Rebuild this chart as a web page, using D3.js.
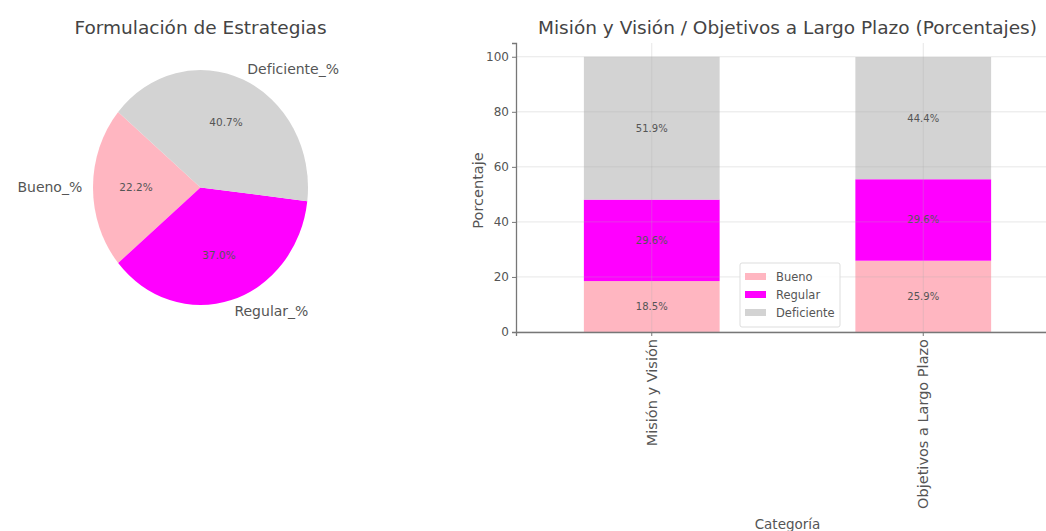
<!DOCTYPE html>
<html lang="es">
<head>
<meta charset="utf-8">
<title>Estrategias</title>
<script src="https://cdn.jsdelivr.net/npm/d3@7"></script>
<style>
  body { margin: 0; background: #fff; }
  svg { font-family: "DejaVu Sans", sans-serif; }
</style>
</head>
<body>
<svg id="chart" width="1046" height="531"></svg>
<script>
// pie data
const pieLabels = ['Bueno_%', 'Regular_%', 'Deficiente_%'];
const pieValues = [22.2, 37.0, 40.7];

// stacked bars data
const categories = ['Misión y Visión', 'Objetivos a Largo Plazo'];
const seriesNames = ['Bueno', 'Regular', 'Deficiente'];
const bueno = [18.5, 25.9];
const regular = [29.6, 29.6];
const deficiente = [51.9, 44.4];
const yTicks = [0, 20, 40, 60, 80, 100];

const colors = ['#ffb6c1', '#ff00ff', '#d3d3d3'];
const svg = d3.select('#chart');

// ---- pie ----
const cx = 200.5, cy = 187.5, rx = 107.5, ry = 117.5;
svg.append('text')
  .attr('x', cx).attr('y', 34)
  .attr('text-anchor', 'middle')
  .style('font-size', '18.5px').style('fill', '#444')
  .text('Formulación de Estrategias');

// matplotlib style: start at 140 deg, counterclockwise
const start = (90 - 140) * Math.PI / 180;
const pie = d3.pie().sort(null).startAngle(start).endAngle(start - 2 * Math.PI);
const slices = pie(pieValues);
const arc = d3.arc().innerRadius(0).outerRadius(rx);

const pg = svg.append('g').attr('transform', 'translate(' + cx + ',' + cy + ') scale(1,' + (ry / rx) + ')');
pg.selectAll('path').data(slices).enter().append('path')
  .attr('d', arc)
  .attr('fill', (d, i) => colors[i]);

function polar(d, f) {
  const a = (d.startAngle + d.endAngle) / 2; // d3 angle, 0 at top, clockwise
  return [cx + f * rx * Math.sin(a), cy - f * ry * Math.cos(a)];
}
svg.selectAll('.plabel').data(slices).enter().append('text')
  .attr('class', 'plabel')
  .attr('x', d => polar(d, 1.1)[0])
  .attr('y', d => polar(d, 1.1)[1])
  .attr('dy', '0.35em')
  .attr('text-anchor', d => Math.sin((d.startAngle + d.endAngle) / 2) > 0 ? 'start' : 'end')
  .style('font-size', '14px').style('fill', '#555')
  .text((d, i) => pieLabels[i]);
svg.selectAll('.ppct').data(slices).enter().append('text')
  .attr('class', 'ppct')
  .attr('x', d => polar(d, 0.6)[0])
  .attr('y', d => polar(d, 0.6)[1])
  .attr('dy', '0.35em')
  .attr('text-anchor', 'middle')
  .style('font-size', '10.5px').style('fill', '#555')
  .text(d => d.data.toFixed(1) + '%');

// ---- stacked bars ----
const L = 516, R = 1059, T = 43, B = 332;
const x = d3.scaleBand().domain(categories).range([L, R]).paddingInner(0.5).paddingOuter(0.25);
const y = d3.scaleLinear().domain([0, 105]).range([B, T]);

const rows = categories.map((c, i) => ({ cat: c, Bueno: bueno[i], Regular: regular[i], Deficiente: deficiente[i] }));
const stacked = d3.stack().keys(seriesNames)(rows);

const bars = svg.append('g');
stacked.forEach((s, k) => {
  bars.selectAll('.s' + k).data(s).enter().append('rect')
    .attr('x', d => x(d.data.cat))
    .attr('y', d => y(d[1]))
    .attr('width', x.bandwidth())
    .attr('height', d => y(d[0]) - y(d[1]))
    .attr('fill', colors[k]);
  bars.selectAll('.t' + k).data(s).enter().append('text')
    .attr('x', d => x(d.data.cat) + x.bandwidth() / 2)
    .attr('y', d => y((d[0] + d[1]) / 2))
    .attr('dy', '0.35em')
    .attr('text-anchor', 'middle')
    .style('font-size', '10px').style('fill', '#555')
    .text(d => (d[1] - d[0]).toFixed(1) + '%');
});

// grid on top, faint
const grid = svg.append('g').style('stroke', '#b0b0b0').style('stroke-opacity', 0.3);
grid.selectAll('.gy').data(yTicks).enter().append('line')
  .attr('x1', L).attr('x2', R).attr('y1', d => y(d)).attr('y2', d => y(d));
grid.selectAll('.gx').data(categories).enter().append('line')
  .attr('x1', d => x(d) + x.bandwidth() / 2).attr('x2', d => x(d) + x.bandwidth() / 2)
  .attr('y1', T).attr('y2', B);

// axes
const yAxis = svg.append('g').attr('transform', 'translate(' + L + ',0)')
  .call(d3.axisLeft(y).tickValues(yTicks).tickSize(4).tickPadding(3));
const xAxis = svg.append('g').attr('transform', 'translate(0,' + B + ')')
  .call(d3.axisBottom(x).tickSize(4).tickPadding(3));
[yAxis, xAxis].forEach(a => {
  a.select('.domain').attr('stroke', '#777').attr('stroke-width', 1.3);
  a.selectAll('.tick line').attr('stroke', '#777');
  a.selectAll('.tick text').style('font-size', '12px').style('fill', '#555').style('font-family', '"DejaVu Sans", sans-serif');
});
xAxis.selectAll('.tick text')
  .style('font-size', '14.5px')
  .attr('transform', 'rotate(-90)')
  .attr('text-anchor', 'end')
  .attr('x', -7).attr('y', 0).attr('dy', '0.35em');

svg.append('text')
  .attr('x', (L + R) / 2).attr('y', 34)
  .attr('text-anchor', 'middle')
  .style('font-size', '18.5px').style('fill', '#444')
  .text('Misión y Visión / Objetivos a Largo Plazo (Porcentajes)');
svg.append('text')
  .attr('transform', 'translate(483,' + ((T + B) / 2 + 3) + ') rotate(-90)')
  .attr('text-anchor', 'middle')
  .style('font-size', '14.5px').style('fill', '#555')
  .text('Porcentaje');
svg.append('text')
  .attr('x', (L + R) / 2).attr('y', 529)
  .attr('text-anchor', 'middle')
  .style('font-size', '13.5px').style('fill', '#555')
  .text('Categoría');

// legend
const lg = svg.append('g').attr('transform', 'translate(740,263)');
lg.append('rect').attr('width', 100).attr('height', 64).attr('rx', 2)
  .attr('fill', '#fff').attr('fill-opacity', 0.85).attr('stroke', '#ddd');
seriesNames.forEach((n, i) => {
  lg.append('rect').attr('x', 5).attr('y', 10 + i * 18).attr('width', 21).attr('height', 7).attr('fill', colors[i]);
  lg.append('text').attr('x', 36).attr('y', 14 + i * 18).attr('dy', '0.35em')
    .style('font-size', '11.5px').style('fill', '#555').text(n);
});
</script>
</body>
</html>
